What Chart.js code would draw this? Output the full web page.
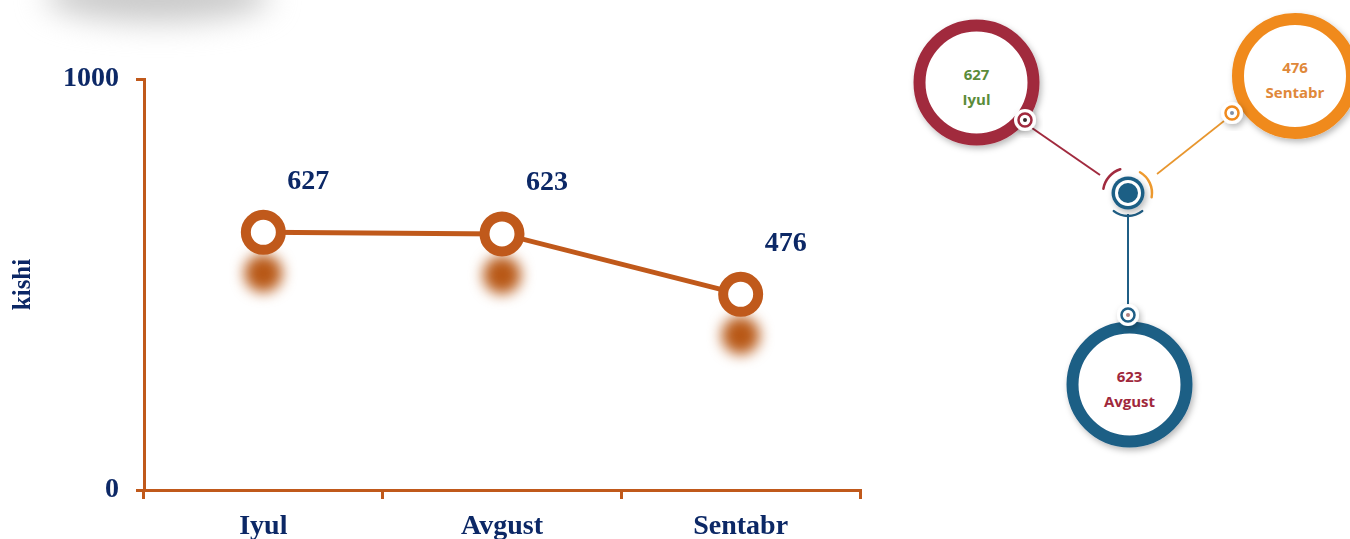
<!DOCTYPE html>
<html lang="uz">
<head>
  <meta charset="UTF-8">
  <title>Oylar bo'yicha kishilar soni</title>
  <script src="https://cdn.jsdelivr.net/npm/chart.js"></script>
  <style>
    body { margin: 0; background: #fff; width: 1350px; height: 539px; overflow: hidden; position: relative; }
    #blur { position: absolute; left: 45px; top: -30px; width: 225px; height: 52px; background: #cacaca; border-radius: 50%; filter: blur(15px); }
    #chartBox { position: absolute; left: 0; top: 0; width: 900px; height: 539px; }
    #info { position: absolute; left: 900px; top: 0; }
  </style>
</head>
<body>
  <div id="blur"></div>
  <div id="chartBox"><canvas id="lineChart" width="900" height="539"></canvas></div>
  <svg id="info" width="450" height="539" viewBox="900 0 450 539"></svg>

  <script>
    // Daten
    const months = ['Iyul', 'Avgust', 'Sentabr'];
    const people = [627, 623, 476];
    const yTicks = [0, 1000];
    const yTitle = 'kishi';

    const orange = '#C0591B';
    const blob = '#B85816';
    const navy = '#0C2866';
    const serif = "'Liberation Serif', 'Times New Roman', serif";

    // verschwommene Schatten unter den Punkten
    const shadowPlugin = {
      id: 'pointShadow',
      beforeDatasetsDraw(chart) {
        const ctx = chart.ctx;
        ctx.save();
        ctx.filter = 'blur(7px)';
        ctx.fillStyle = blob;
        chart.getDatasetMeta(0).data.forEach(p => {
          ctx.beginPath();
          ctx.arc(p.x, p.y + 41, 19, 0, Math.PI * 2);
          ctx.fill();
        });
        ctx.restore();
      }
    };

    // Werte über den Punkten
    const valuePlugin = {
      id: 'valueLabels',
      afterDatasetsDraw(chart) {
        const ctx = chart.ctx;
        ctx.save();
        ctx.font = 'bold 28px ' + serif;
        ctx.fillStyle = navy;
        ctx.textAlign = 'center';
        ctx.textBaseline = 'middle';
        chart.getDatasetMeta(0).data.forEach((p, i) => {
          ctx.fillText(String(people[i]), p.x + 45, p.y - 51);
        });
        ctx.restore();
      }
    };

    new Chart(document.getElementById('lineChart'), {
      type: 'line',
      data: {
        labels: months,
        datasets: [{
          data: people,
          borderColor: orange,
          borderWidth: 5,
          tension: 0,
          pointRadius: 17.5,
          pointHoverRadius: 17.5,
          pointBorderWidth: 10,
          pointHoverBorderWidth: 10,
          pointBackgroundColor: '#fff',
          pointBorderColor: orange,
          clip: false
        }]
      },
      options: {
        responsive: false,
        animation: false,
        layout: { padding: { top: 79, right: 40, left: 0, bottom: 0 } },
        plugins: { legend: { display: false }, tooltip: { enabled: false } },
        scales: {
          x: {
            offset: true,
            afterFit: s => { s.height = 49; },
            grid: { offset: true, drawOnChartArea: false, color: orange, lineWidth: 3, tickLength: 9 },
            border: { color: orange, width: 3 },
            ticks: { color: navy, font: { family: serif, size: 28, weight: 'bold' }, padding: 11, maxRotation: 0 }
          },
          y: {
            min: 0,
            max: 1000,
            afterFit: s => { s.width = 144; },
            afterBuildTicks: s => { s.ticks = yTicks.map(v => ({ value: v })); },
            grid: { drawOnChartArea: false, color: orange, lineWidth: 3, tickLength: 8 },
            border: { color: orange, width: 3 },
            ticks: { color: navy, font: { family: serif, size: 28, weight: 'bold' }, padding: 17, callback: v => String(v) },
            title: { display: true, text: yTitle, color: navy, font: { family: serif, size: 25, weight: 'bold' }, padding: { top: 9 } }
          }
        }
      },
      plugins: [shadowPlugin, valuePlugin]
    });

    // Infografik rechts
    const ringColors = ['#A12A3E', '#1F5E85', '#F08A1E'];
    const textColors = ['#5B8C3A', '#A0283C', '#E0883A'];
    const ringPos = [[976.5, 82.5], [1129.5, 384.5], [1295, 76]];
    const nodePos = [[1025, 120], [1128, 315], [1232, 113]];
    const hub = [1128, 193];

    const svg = document.getElementById('info');
    const NS = 'http://www.w3.org/2000/svg';
    function el(tag, attrs, parent) {
      const e = document.createElementNS(NS, tag);
      for (const k in attrs) e.setAttribute(k, attrs[k]);
      (parent || svg).appendChild(e);
      return e;
    }
    function arc(cx, cy, r, a0, a1) {
      const t0 = a0 * Math.PI / 180, t1 = a1 * Math.PI / 180;
      return 'M' + (cx + r * Math.cos(t0)) + ' ' + (cy + r * Math.sin(t0)) +
        ' A' + r + ' ' + r + ' 0 0 1 ' + (cx + r * Math.cos(t1)) + ' ' + (cy + r * Math.sin(t1));
    }

    const defs = el('defs', {});
    const f = el('filter', { id: 'sh', x: '-30%', y: '-30%', width: '160%', height: '160%' }, defs);
    el('feDropShadow', { dx: 2, dy: 3, stdDeviation: 3, 'flood-color': '#000', 'flood-opacity': 0.28 }, f);

    // Verbindungslinien
    el('line', { x1: 1032, y1: 128, x2: 1100, y2: 175, stroke: ringColors[0], 'stroke-width': 2 });
    el('line', { x1: 1157, y1: 174, x2: 1224, y2: 121, stroke: '#E8962E', 'stroke-width': 1.6 });
    el('line', { x1: hub[0], y1: 214, x2: hub[0], y2: 305, stroke: ringColors[1], 'stroke-width': 2 });

    // Ringe mit Text
    months.forEach((m, i) => {
      const [cx, cy] = ringPos[i];
      el('circle', { cx, cy, r: 57, fill: '#fff', stroke: ringColors[i], 'stroke-width': 12, filter: 'url(#sh)' });
      const t1 = el('text', { x: cx, y: cy - 3, 'text-anchor': 'middle', fill: textColors[i],
        'font-family': 'Open Sans, sans-serif', 'font-weight': 'bold', 'font-size': 15 });
      t1.textContent = String(people[i]);
      const t2 = el('text', { x: cx, y: cy + 22, 'text-anchor': 'middle', fill: textColors[i],
        'font-family': 'Open Sans, sans-serif', 'font-weight': 'bold', 'font-size': 15 });
      t2.textContent = m;
    });

    // kleine Knoten
    const dotColors = ['#3a2a2e', '#b08080', '#8090a8'];
    nodePos.forEach(([x, y], i) => {
      el('circle', { cx: x, cy: y, r: 11, fill: '#fff', filter: 'url(#sh)' });
      el('circle', { cx: x, cy: y, r: 6.5, fill: 'none', stroke: ringColors[i], 'stroke-width': 2.5 });
      el('circle', { cx: x, cy: y, r: 2, fill: dotColors[i] });
    });

    // Zentrum
    el('path', { d: arc(hub[0], hub[1], 25, 190, 252), fill: 'none', stroke: ringColors[0], 'stroke-width': 2.5, 'stroke-linecap': 'round' });
    el('path', { d: arc(hub[0], hub[1], 24, 300, 370), fill: 'none', stroke: '#EE9A2E', 'stroke-width': 2.5, 'stroke-linecap': 'round' });
    el('path', { d: arc(hub[0], hub[1], 23, 52, 128), fill: 'none', stroke: ringColors[1], 'stroke-width': 2.5, 'stroke-linecap': 'round' });
    el('circle', { cx: hub[0], cy: hub[1], r: 16.5, fill: ringColors[1], filter: 'url(#sh)' });
    el('circle', { cx: hub[0], cy: hub[1], r: 11.5, fill: 'none', stroke: '#fff', 'stroke-width': 3 });
  </script>
</body>
</html>
